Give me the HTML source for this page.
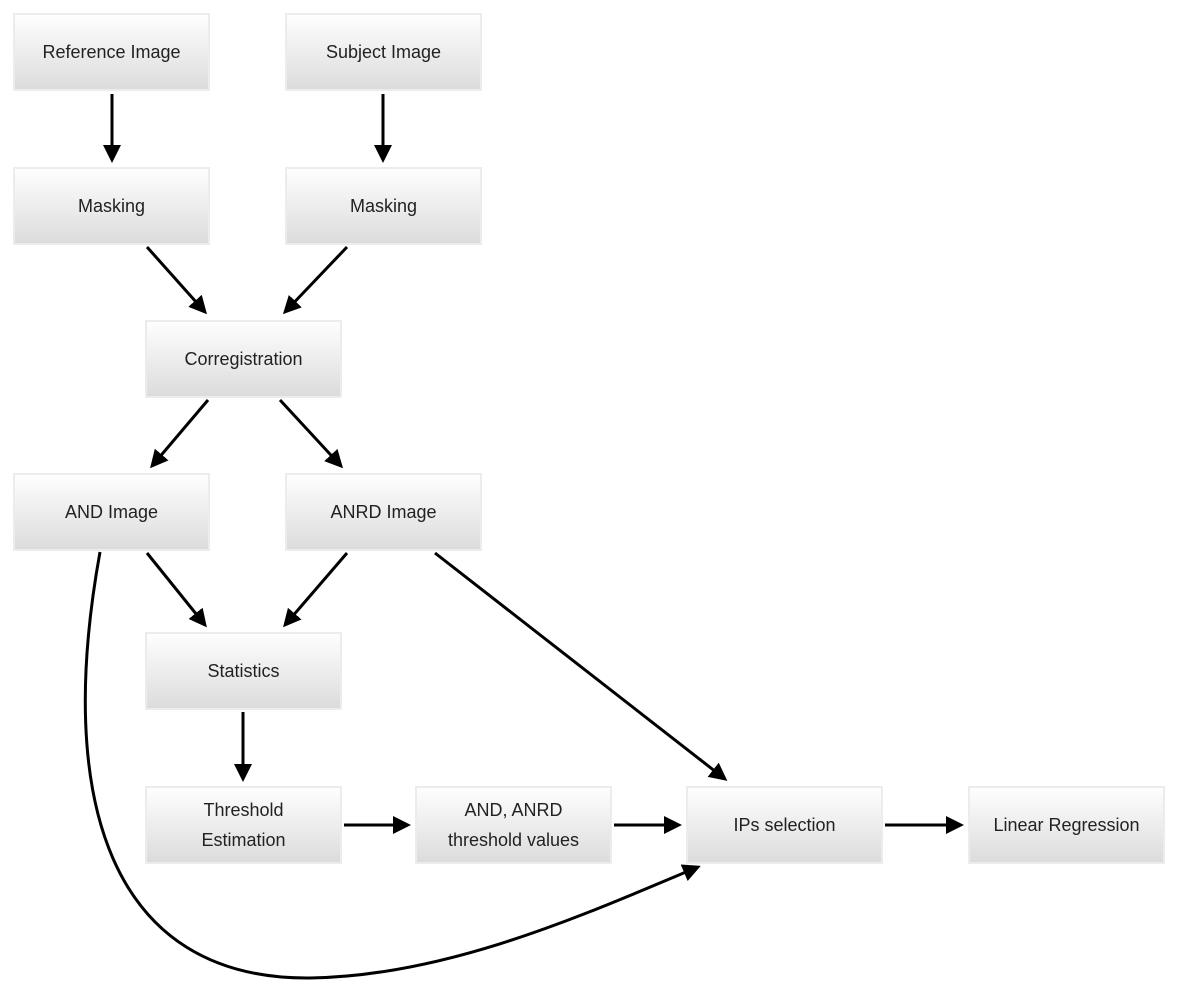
<!DOCTYPE html>
<html><head><style>
body{margin:0;width:1184px;height:988px;background:#fff;position:relative;font-family:"Liberation Sans",sans-serif;}
.b{position:absolute;width:197px;height:78px;box-sizing:border-box;border:2px solid #ececec;background:linear-gradient(#fefefe,#dcdcdc);display:flex;align-items:center;justify-content:center;text-align:center;font-size:18px;color:#222;line-height:30px;}
svg{position:absolute;left:0;top:0;}
</style></head><body>
<div class="b" style="left:13px;top:13px">Reference Image</div>
<div class="b" style="left:285px;top:13px">Subject Image</div>
<div class="b" style="left:13px;top:167px">Masking</div>
<div class="b" style="left:285px;top:167px">Masking</div>
<div class="b" style="left:145px;top:320px">Corregistration</div>
<div class="b" style="left:13px;top:473px">AND Image</div>
<div class="b" style="left:285px;top:473px">ANRD Image</div>
<div class="b" style="left:145px;top:632px">Statistics</div>
<div class="b" style="left:145px;top:786px">Threshold<br>Estimation</div>
<div class="b" style="left:415px;top:786px">AND, ANRD<br>threshold values</div>
<div class="b" style="left:686px;top:786px">IPs selection</div>
<div class="b" style="left:968px;top:786px">Linear Regression</div>
<svg width="1184" height="988">
<defs><marker id="a" markerWidth="6" markerHeight="6" refX="5" refY="3" orient="auto" markerUnits="strokeWidth"><path d="M0,0 L6,3 L0,6z" fill="#000"/></marker></defs>
<g stroke="#000" stroke-width="3" fill="none" marker-end="url(#a)">
<line x1="112" y1="94" x2="112" y2="160"/>
<line x1="383" y1="94" x2="383" y2="160"/>
<line x1="147" y1="247" x2="205" y2="312"/>
<line x1="347" y1="247" x2="285" y2="312"/>
<line x1="208" y1="400" x2="152" y2="466"/>
<line x1="280" y1="400" x2="341" y2="466"/>
<line x1="147" y1="553" x2="205" y2="625"/>
<line x1="347" y1="553" x2="285" y2="625"/>
<line x1="243" y1="712" x2="243" y2="779"/>
<line x1="344" y1="825" x2="408" y2="825"/>
<line x1="614" y1="825" x2="679" y2="825"/>
<line x1="885" y1="825" x2="961" y2="825"/>
<line x1="435" y1="553" x2="725" y2="779"/>
<path d="M100,552 C55,800 110,980 310,978 C450,976 590,912 698,867"/>
</g>
</svg>
</body></html>
